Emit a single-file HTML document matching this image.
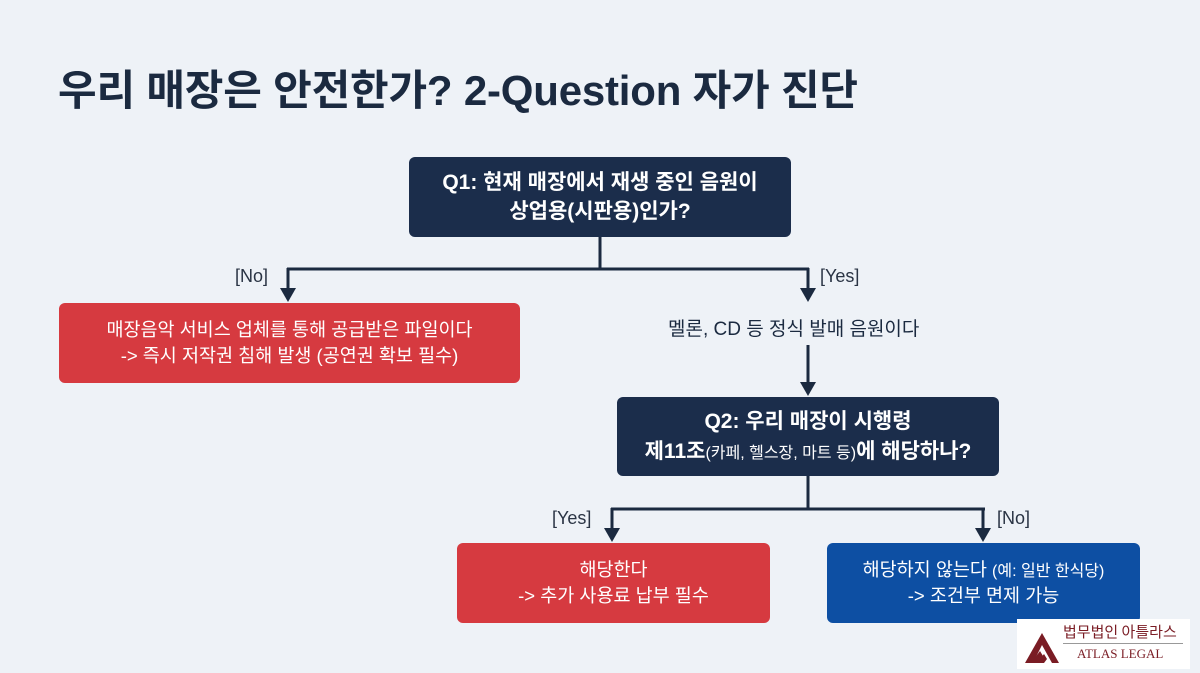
<!DOCTYPE html>
<html><head><meta charset="utf-8"><style>
*{margin:0;padding:0;box-sizing:border-box}
body{width:1200px;height:669px;background:#eef2f7;position:relative;overflow:hidden;font-family:"Liberation Sans","Noto Sans CJK KR",sans-serif;color:#1b2a40}
.t{position:absolute;left:58px;top:57px;font-size:42px;font-weight:bold;white-space:nowrap;letter-spacing:-0.2px;color:#1b2a40}
.box{position:absolute;display:flex;align-items:center;justify-content:center;text-align:center;color:#fff;border-radius:6px;line-height:1.4}
.navy{background:#1b2d4b;font-weight:bold;font-size:21px}
.red{background:#d63a40;font-size:18.5px}
.blue{background:#0d4fa3;font-size:18.5px}
.lbl{position:absolute;font-size:18px;color:#2a3444}
.logo{position:absolute;left:1017px;top:619px;width:173px;height:50px;background:#fff}
</style></head><body>
<div class="t">우리 매장은 안전한가? 2-Question 자가 진단</div>
<svg width="1200" height="669" style="position:absolute;left:0;top:0">
<g stroke="#1b2a40" stroke-width="3" fill="none">
<path d="M600 237V269M287 269H809M288 268V290M808 268V290M808 345V384M808 476V509M611 509H985M612 508V530M983 508V530"/>
</g>
<g fill="#1b2a40">
<path d="M280 288H296L288 302Z"/><path d="M800 288H816L808 302Z"/>
<path d="M800 382H816L808 396Z"/>
<path d="M604 528H620L612 542Z"/><path d="M975 528H991L983 542Z"/>
</g>
</svg>
<div class="box navy" style="left:409px;top:157px;width:382px;height:80px"><div>Q1: 현재 매장에서 재생 중인 음원이<br>상업용(시판용)인가?</div></div>
<div class="lbl" style="left:235px;top:266px">[No]</div>
<div class="lbl" style="left:820px;top:266px">[Yes]</div>
<div class="box red" style="left:59px;top:303px;width:461px;height:80px"><div>매장음악 서비스 업체를 통해 공급받은 파일이다<br>-&gt; 즉시 저작권 침해 발생 (공연권 확보 필수)</div></div>
<div class="lbl" style="left:668px;top:314px;font-size:19px;color:#1b2a40">멜론, CD 등 정식 발매 음원이다</div>
<div class="box navy" style="left:617px;top:397px;width:382px;height:79px"><div>Q2: 우리 매장이 시행령<br>제11조<span style="font-size:16px;font-weight:normal">(카페, 헬스장, 마트 등)</span>에 해당하나?</div></div>
<div class="lbl" style="left:552px;top:508px">[Yes]</div>
<div class="lbl" style="left:997px;top:508px">[No]</div>
<div class="box red" style="left:457px;top:543px;width:313px;height:80px"><div>해당한다<br>-&gt; 추가 사용료 납부 필수</div></div>
<div class="box blue" style="left:827px;top:543px;width:313px;height:80px"><div>해당하지 않는다 <span style="font-size:16px">(예: 일반 한식당)</span><br>-&gt; 조건부 면제 가능</div></div>
<div class="logo">
<svg width="50" height="50" style="position:absolute;left:5px;top:4px"><path d="M3 40L20 10L37 40H30L20 22L11 40Z" fill="#7a1c24"/><path d="M9 40L18 28L21 33L16 40Z M15 40L22 31L25 36L22 40Z" fill="#7a1c24"/></svg>
<div style="position:absolute;left:46px;top:2px;font-size:15px;color:#7a1c24;font-family:'Noto Sans CJK KR',sans-serif;white-space:nowrap">법무법인 아틀라스</div>
<div style="position:absolute;left:46px;top:24px;width:120px;border-top:1px solid #999"></div>
<div style="position:absolute;left:60px;top:27px;font-size:13px;color:#7a1c24;font-family:'Liberation Serif',serif;white-space:nowrap">ATLAS LEGAL</div>
</div>
</body></html>
